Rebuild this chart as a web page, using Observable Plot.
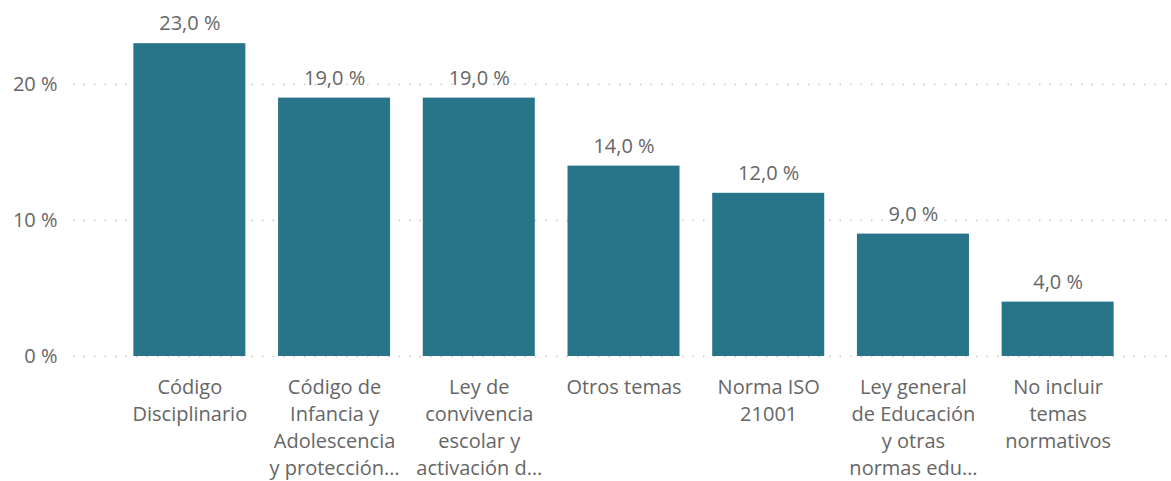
<!DOCTYPE html>
<html>
<head>
<meta charset="utf-8">
<script src="https://cdn.jsdelivr.net/npm/d3@7"></script>
<script src="https://cdn.jsdelivr.net/npm/@observablehq/plot@0.6"></script>
<style>
  html, body { margin: 0; padding: 0; background: #fff; }
  #chart { width: 1171px; height: 481px; }
</style>
</head>
<body>
<div id="chart"></div>
<script>
const categories = [
  "Código Disciplinario",
  "Código de Infancia y Adolescencia y protección",
  "Ley de convivencia escolar y activación de rutas",
  "Otros temas",
  "Norma ISO 21001",
  "Ley general de Educación y otras normas educativas",
  "No incluir temas normativos"
];
const values = [0.23, 0.19, 0.19, 0.14, 0.12, 0.09, 0.04];
const tickLabels = [
  "Código\nDisciplinario",
  "Código de\nInfancia y\nAdolescencia\ny protección…",
  "Ley de\nconvivencia\nescolar y\nactivación d…",
  "Otros temas",
  "Norma ISO\n21001",
  "Ley general\nde Educación\ny otras\nnormas edu…",
  "No incluir\ntemas\nnormativos"
];
const yTicks = [0, 0.1, 0.2];

const data = categories.map((c, i) => ({category: c, value: values[i]}));
const labelOf = new Map(categories.map((c, i) => [c, tickLabels[i]]));
const pct1 = v => (v * 100).toFixed(1).replace(".", ",") + " %";
const pct0 = v => Math.round(v * 100) + " %";

const textColor = "#666666";
const barColor = "#287489";

const chart = Plot.plot({
  width: 1171,
  height: 481,
  marginTop: 16,
  marginBottom: 125,
  marginLeft: 117,
  marginRight: 41,
  style: {fontFamily: "'Segoe UI', 'Open Sans', sans-serif", fontSize: "20px", color: textColor, background: "#fff"},
  x: {domain: categories, paddingInner: 0.226, paddingOuter: 0.113, round: false, label: null},
  y: {domain: [0, 0.25], label: null},
  marks: [
    Plot.ruleY(yTicks, {stroke: "#c8c8c8", strokeWidth: 1.5, strokeDasharray: "1.5,9", insetLeft: -44, insetRight: -40}),
    Plot.barY(data, {x: "category", y: "value", fill: barColor}),
    Plot.text(data, {x: "category", y: "value", text: d => pct1(d.value), dy: -20, fill: textColor, fontSize: 20}),
    Plot.axisY({ticks: yTicks, tickFormat: pct0, tickSize: 0, tickPadding: 60, fontSize: 20, fill: textColor, label: null}),
    Plot.axisX({tickFormat: d => labelOf.get(d), tickSize: 0, tickPadding: 18, fontSize: 20, lineHeight: 1.35, fill: textColor, label: null})
  ]
});
document.getElementById("chart").appendChild(chart);
</script>
</body>
</html>
